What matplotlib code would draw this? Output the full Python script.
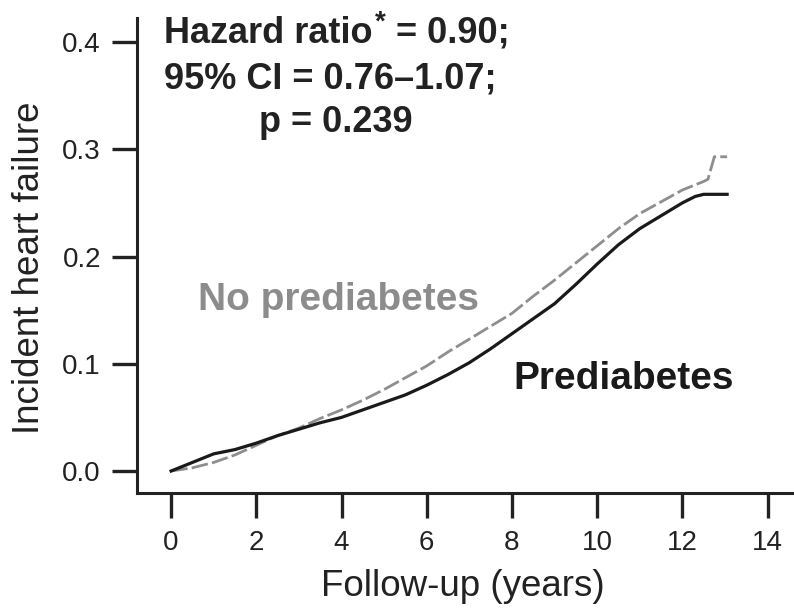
import matplotlib
matplotlib.use("Agg")
import matplotlib.pyplot as plt

# Data (years, cumulative incidence)
t_pre = [0, 0.5, 1.0, 1.5, 2.0, 2.5, 3.0, 3.5, 4.0, 4.5, 5.0, 5.5, 6.0, 6.5, 7.0,
         7.5, 8.0, 8.5, 9.0, 9.5, 10.0, 10.5, 11.0, 11.5, 12.0, 12.3, 12.5, 13.05]
v_pre = [0, 0.008, 0.016, 0.020, 0.026, 0.033, 0.039, 0.045, 0.050, 0.057, 0.064,
         0.071, 0.080, 0.090, 0.101, 0.114, 0.128, 0.142, 0.156, 0.174, 0.193,
         0.211, 0.226, 0.238, 0.250, 0.256, 0.258, 0.258]

t_nopre = [0, 0.5, 1.0, 1.5, 2.0, 2.5, 3.0, 3.5, 4.0, 4.5, 5.0, 5.5, 6.0, 6.5, 7.0,
           7.5, 8.0, 8.5, 9.0, 9.5, 10.0, 10.5, 11.0, 11.5, 12.0, 12.5, 12.6, 12.75, 13.05]
v_nopre = [0, 0.003, 0.008, 0.015, 0.024, 0.033, 0.040, 0.049, 0.057, 0.066, 0.076,
           0.087, 0.098, 0.111, 0.123, 0.135, 0.147, 0.163, 0.178, 0.194, 0.210,
           0.226, 0.240, 0.251, 0.262, 0.270, 0.272, 0.293, 0.293]

x_ticks = [0, 2, 4, 6, 8, 10, 12, 14]
y_ticks = [0.0, 0.1, 0.2, 0.3, 0.4]
y_tick_labels = ["0.0", "0.1", "0.2", "0.3", "0.4"]

plt.rcParams['font.family'] = ['Liberation Sans', 'DejaVu Sans']

W, H = 794, 608
fig = plt.figure(figsize=(W / 100, H / 100), dpi=100)
ax = fig.add_axes([137 / W, 1 - 493 / H, (W - 137) / W, (493 - 18) / H])

ax.plot(t_nopre, v_nopre, color='#8e8e8e', lw=2.0, linestyle=(0, (6, 1.5)))
ax.plot(t_pre, v_pre, color='#1a1a1a', lw=2.3)

ax.set_xlim(-0.80, 14.62)
ax.set_ylim(-0.0205, 0.4224)
ax.set_xticks(x_ticks)
ax.set_yticks(y_ticks)
ax.set_yticklabels(y_tick_labels)

for s in ['top', 'right']:
    ax.spines[s].set_visible(False)
for s in ['left', 'bottom']:
    ax.spines[s].set_linewidth(2.2)
    ax.spines[s].set_color('#222222')
ax.tick_params(axis='both', length=18, width=2.4, color='#222222',
               labelsize=20, labelcolor='#222222')
ax.tick_params(axis='x', pad=9)
ax.tick_params(axis='y', pad=8)

ax.set_xlabel("Follow-up (years)", fontsize=26.5, color='#222222', va='baseline')
ax.xaxis.set_label_coords(463 / W, 1 - 596 / H, transform=fig.transFigure)
ax.set_ylabel("Incident heart failure", fontsize=26.5, color='#222222', va='center')
ax.yaxis.set_label_coords(30 / W, 1 - 268 / H, transform=fig.transFigure)

txt_kw = dict(ha='left', va='baseline', fontsize=26, fontweight='bold', color='#222222')
renderer = fig.canvas.get_renderer()
t1 = fig.text(164 / W, 1 - 43 / H, "Hazard ratio", **txt_kw)
x_end = t1.get_window_extent(renderer).x1
star = fig.text((x_end + 2) / W, 1 - 30 / H, "*", ha='left', va='baseline',
                fontsize=20, fontweight='bold', color='#222222')
x_star = star.get_window_extent(renderer).x1
fig.text((x_star + 1) / W, 1 - 43 / H, " = 0.90;", **txt_kw)
fig.text(164 / W, 1 - 88 / H, "95% CI = 0.76\u20131.07;", **txt_kw)
fig.text(259 / W, 1 - 132 / H, "p = 0.239", **txt_kw)

fig.text(198 / W, 1 - 310 / H, "No prediabetes", ha='left', va='baseline',
         fontsize=28, fontweight='bold', color='#8c8c8c')
fig.text(513 / W, 1 - 389 / H, "Prediabetes", ha='left', va='baseline',
         fontsize=28, fontweight='bold', color='#1a1a1a')

fig.savefig("out.png", dpi=100)
